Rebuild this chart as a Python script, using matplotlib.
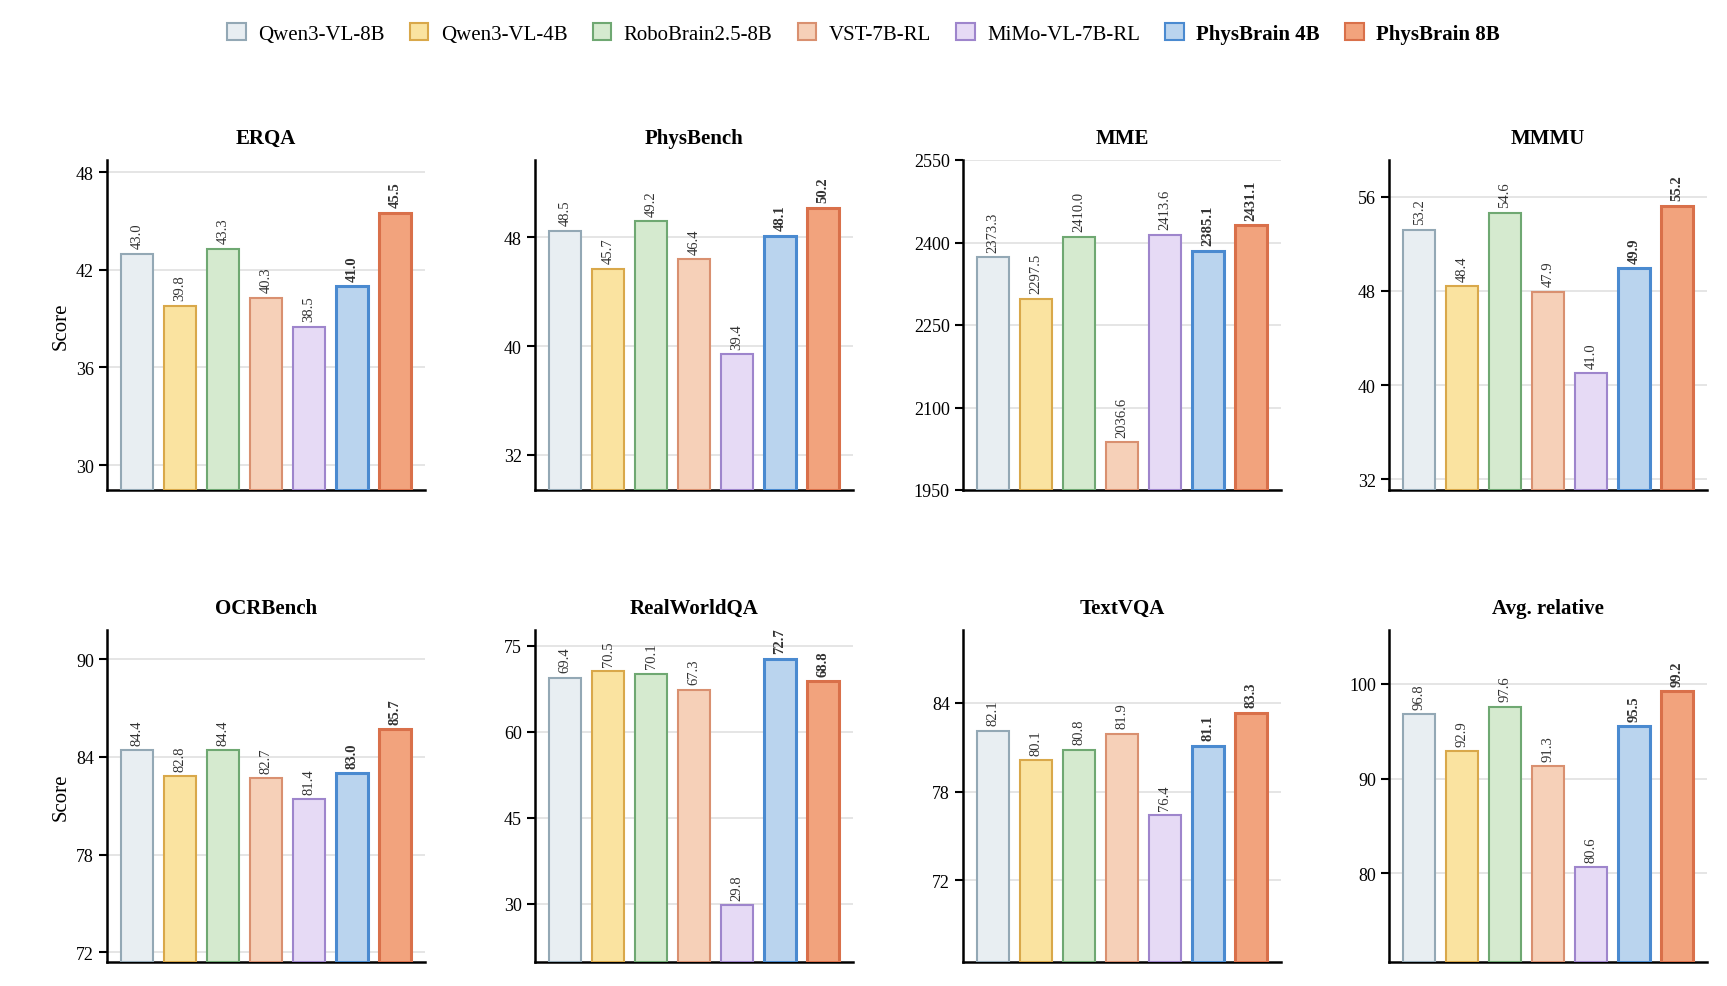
import matplotlib
matplotlib.use("Agg")
import matplotlib.pyplot as plt
from matplotlib.patches import Patch

plt.rcParams['font.family'] = ['Liberation Serif', 'DejaVu Serif']

models = ["Qwen3-VL-8B", "Qwen3-VL-4B", "RoboBrain2.5-8B", "VST-7B-RL", "MiMo-VL-7B-RL", "PhysBrain 4B", "PhysBrain 8B"]
fills = ["#E8EEF2", "#FAE3A0", "#D5EACF", "#F6D0B8", "#E6DAF5", "#BAD4EE", "#F2A37D"]
edges = ["#93A8B5", "#D9A84A", "#6FA872", "#D99070", "#9E85CC", "#4A8AD0", "#D9704A"]

benchmarks = ["ERQA", "PhysBench", "MME", "MMMU", "OCRBench", "RealWorldQA", "TextVQA", "Avg. relative"]
erqa = [43.0, 39.8, 43.3, 40.3, 38.5, 41.0, 45.5]
physbench = [48.5, 45.7, 49.2, 46.4, 39.4, 48.1, 50.2]
mme = [2373.3, 2297.5, 2410.0, 2036.6, 2413.6, 2385.1, 2431.1]
mmmu = [53.2, 48.4, 54.6, 47.9, 41.0, 49.9, 55.2]
ocrbench = [84.4, 82.8, 84.4, 82.7, 81.4, 83.0, 85.7]
realworldqa = [69.4, 70.5, 70.1, 67.3, 29.8, 72.7, 68.8]
textvqa = [82.1, 80.1, 80.8, 81.9, 76.4, 81.1, 83.3]
avg_rel = [96.8, 92.9, 97.6, 91.3, 80.6, 95.5, 99.2]
values = [erqa, physbench, mme, mmmu, ocrbench, realworldqa, textvqa, avg_rel]

yticks = [[30, 36, 42, 48], [32, 40, 48], [1950, 2100, 2250, 2400, 2550], [32, 40, 48, 56],
          [72, 78, 84, 90], [30, 45, 60, 75], [72, 78, 84], [80, 90, 100]]
ylims = [(28.47, 48.75), (29.4, 53.7), (1950, 2550), (31.1, 59.1),
         (71.4, 91.8), (19.9, 77.7), (66.5, 88.9), (70.6, 105.7)]

W, H = 1727, 987
fig = plt.figure(figsize=(W / 100, H / 100), dpi=100)
lefts = [107, 535, 963, 1389]
rows = [(161, 491), (631, 963)]
aw = 318
for i, name in enumerate(benchmarks):
    r, c = divmod(i, 4)
    top, bot = rows[r]
    ax = fig.add_axes([lefts[c] / W, 1 - bot / H, aw / W, (bot - top) / H])
    vals = values[i]
    x = list(range(len(vals)))
    lo, hi = ylims[i]
    for j, v in enumerate(vals):
        lw = 2.2 if j >= 5 else 1.5
        ax.bar(j, v - lo, bottom=lo, width=0.74, color=fills[j], edgecolor=edges[j], linewidth=lw, zorder=3)
        fmt = f"{v:.1f}"
        ax.annotate(fmt, (j, v), xytext=(0, 4), textcoords="offset points", rotation=90,
                    ha="center", va="bottom", fontsize=10.5, color="#333333",
                    fontweight="bold" if j >= 5 else "normal", zorder=4)
    ax.set_xlim(-0.7, 6.7)
    ax.set_ylim(lo, hi)
    ax.set_yticks(yticks[i])
    ax.set_xticks([])
    ax.yaxis.grid(True, color="#E0E0E0", linewidth=1.2, zorder=0)
    for s in ["top", "right"]:
        ax.spines[s].set_visible(False)
    ax.spines["left"].set_linewidth(1.8)
    ax.spines["bottom"].set_linewidth(1.8)
    ax.tick_params(axis="y", labelsize=13, width=1.5, length=6, direction="out")
    ax.set_title(name, fontsize=15, fontweight="bold", pad=12)
    if c == 0:
        ax.set_ylabel("Score", fontsize=15)

handles = [Patch(facecolor=fills[j], edgecolor=edges[j], linewidth=1.5) for j in range(7)]
leg = fig.legend(handles, models, loc="upper center", bbox_to_anchor=(0.5, 0.995), ncol=7,
                 frameon=False, fontsize=15, handlelength=0.9, handleheight=0.9,
                 columnspacing=1.2, handletextpad=0.6)
for t in leg.get_texts()[5:]:
    t.set_fontweight("bold")

fig.savefig("out.png", dpi=100)
